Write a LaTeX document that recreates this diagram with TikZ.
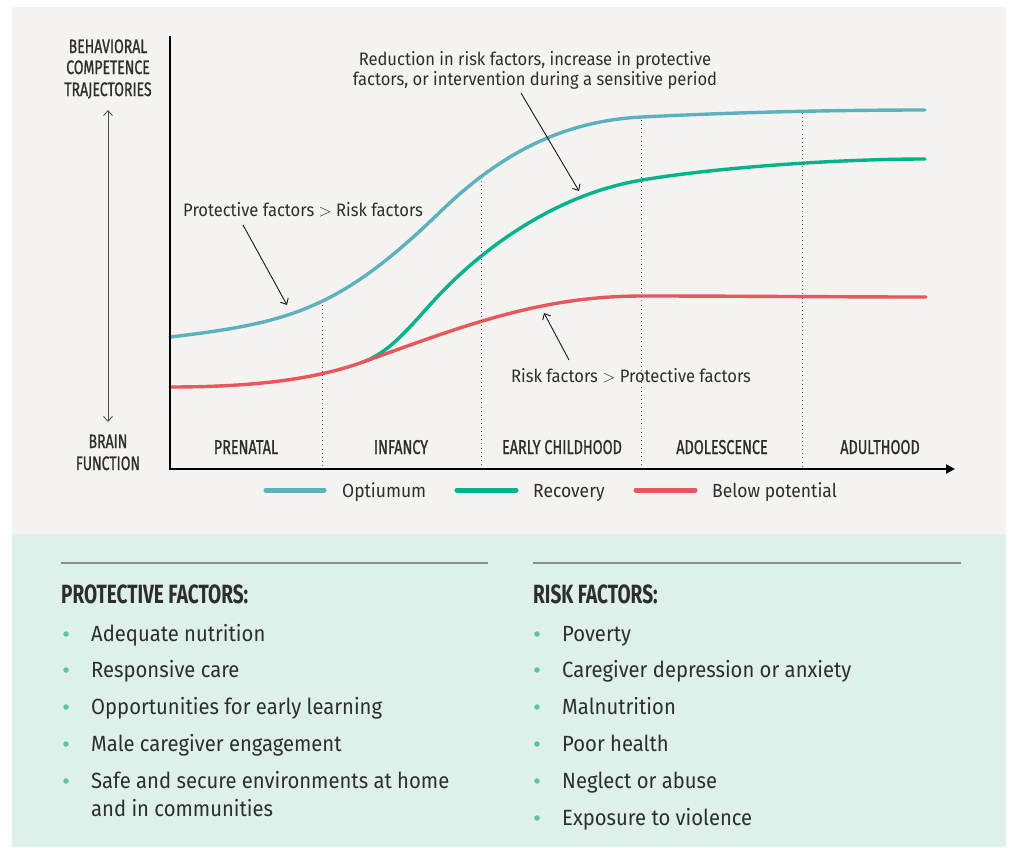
\documentclass[tikz,border=0pt]{standalone}
\usepackage{fontspec}
\setmainfont{Fira Sans}[FakeStretch=0.92]
\newfontfamily\cond{Fira Sans}[FakeStretch=0.72]
\newfontfamily\condm{Fira Sans}[FakeStretch=0.72, FakeBold=0.9]
\usetikzlibrary{arrows.meta}
\definecolor{bggray}{HTML}{F4F3F0}
\definecolor{bggreen}{HTML}{DDF1EA}
\definecolor{optblue}{HTML}{5BB2BE}
\definecolor{recgreen}{HTML}{00B38B}
\definecolor{belred}{HTML}{E9565E}
\definecolor{txt}{HTML}{2E2E2E}
\definecolor{bul}{HTML}{5CC49F}
\definecolor{rulegray}{HTML}{8E8E8E}
\tikzset{
  lbl/.style={inner sep=0pt, text=txt, font=\condm\fontsize{20}{22}\selectfont, anchor=base},
  axlbl/.style={inner sep=0pt, text=txt, font=\condm\fontsize{19.5}{22}\selectfont, anchor=base},
  note/.style={inner sep=0pt, text=txt, font=\fontsize{18}{20}\selectfont},
  legtxt/.style={inner sep=0pt, text=txt, font=\fontsize{19}{22}\selectfont, anchor=base west},
  head/.style={inner sep=0pt, text=txt, font=\cond\bfseries\fontsize{26.4}{28}\selectfont, anchor=base west},
  item/.style={inner sep=0pt, text=txt, font=\fontsize{22}{28}\selectfont, anchor=base west},
  curve/.style={line width=3.4pt, line cap=round},
  legline/.style={line width=5pt, line cap=round},
  dotline/.style={draw=black!65, line width=0.9pt, dash pattern=on 0.9pt off 3.2pt},
  pointer/.style={draw=black!90, line width=0.9pt, -{Straight Barb[length=5pt,width=9pt]}},
  bulletdot/.style={circle, fill=bul, inner sep=0pt, minimum size=5.5pt},
}
\begin{document}
\begin{tikzpicture}[x=1pt,y=-1pt]
\useasboundingbox (0,0) rectangle (1010,847);
\fill[white] (0,0) rectangle (1010,847);
\fill[bggray] (12,7) rectangle (1006,534);
\fill[bggreen] (12,534) rectangle (1006,847);

% y axis label
\node[axlbl] (yl1) at (108,53) {BEHAVIORAL};
\node[axlbl] (yl2) at (108,74) {COMPETENCE};
\node[axlbl] (yl3) at (108,96) {TRAJECTORIES};
\node[axlbl] (yl4) at (108,448) {BRAIN};
\node[axlbl] (yl5) at (108,470) {FUNCTION};
\coordinate (ytop) at (108,110);
\coordinate (ybot) at (108,422);
\draw[draw=black!70, line width=0.9pt, {Straight Barb[length=5pt,width=9pt]}-{Straight Barb[length=5pt,width=9pt]}] (ytop) -- (ybot);

% curves
\draw[curve, optblue] (170,337) .. controls (290,323) and (340,309) .. (440,212)
  .. controls (500,154) and (562,121) .. (642,117)
  .. controls (720,113) and (820,110) .. (925,110);
\draw[curve, recgreen] (363,362) .. controls (393,351.2) and (415,320) .. (440,294)
  .. controls (480,252) and (552,195) .. (642,180)
  .. controls (720,167) and (840,159) .. (925,159);
\draw[curve, belred] (170,387) .. controls (250,387) and (313,380) .. (363,362)
  .. controls (463,326) and (540,296) .. (642,296)
  .. controls (740,296) and (840,297) .. (926,297);

% dotted dividers
\draw[dotline] (322,305) -- (322,467);
\draw[dotline] (481,181) -- (481,467);
\draw[dotline] (641,120) -- (641,467);
\draw[dotline] (802,113) -- (802,467);

% axes
\draw[black, line width=2.4pt] (170,36) -- (170,469);
\draw[black, line width=2.6pt, -{Triangle[length=9pt,width=9pt]}] (169,469) -- (955,469);

% period labels
\node[lbl] (p1) at (246,454) {PRENATAL};
\node[lbl] (p2) at (401,454) {INFANCY};
\node[lbl] (p3) at (562,454) {EARLY CHILDHOOD};
\node[lbl] (p4) at (722,454) {ADOLESCENCE};
\node[lbl] (p5) at (880,454) {ADULTHOOD};

% annotations
\node[note, anchor=base west] (n1) at (183,216) {Protective factors $>$ Risk factors};
\coordinate (n1s) at (243,225);
\coordinate (n1e) at (287,305);
\draw[pointer] (n1s) -- (n1e);

\node[note, anchor=base] (n2a) at (535,65) {Reduction in risk factors, increase in protective};
\node[note, anchor=base] (n2b) at (535,85) {factors, or intervention during a sensitive period};
\coordinate (n2s) at (521,93);
\coordinate (n2e) at (579,191);
\draw[pointer] (n2s) -- (n2e);

\node[note, anchor=base west] (n3) at (511,382) {Risk factors $>$ Protective factors};
\coordinate (n3s) at (569,360);
\coordinate (n3e) at (544,313);
\draw[pointer] (n3s) -- (n3e);

% legend
\coordinate (l1a) at (266,490); \coordinate (l1b) at (324,490);
\coordinate (l2a) at (457,490); \coordinate (l2b) at (516,490);
\coordinate (l3a) at (636,490); \coordinate (l3b) at (695,490);
\draw[legline, optblue] (l1a) -- (l1b);
\draw[legline, recgreen] (l2a) -- (l2b);
\draw[legline, belred] (l3a) -- (l3b);
\node[legtxt] (lt1) at (342,497) {Optiumum};
\node[legtxt] (lt2) at (533,497) {Recovery};
\node[legtxt] (lt3) at (712,497) {Below potential};

% bottom panel
\draw[rulegray, line width=1.3pt] (61,563) -- (488,563);
\draw[rulegray, line width=1.3pt] (533,563) -- (961,563);
\node[head] (h1) at (61,603) {PROTECTIVE FACTORS:};
\node[head] (h2) at (533,603) {RISK FACTORS:};

\node[item] (a1) at (91,641) {Adequate nutrition};
\node[item] (a2) at (91,677) {Responsive care};
\node[item] (a3) at (91,714) {Opportunities for early learning};
\node[item] (a4) at (91,751) {Male caregiver engagement};
\node[item] (a5) at (91,788) {Safe and secure environments at home};
\node[item] (a6) at (91,816) {and in communities};
\foreach \yy/\nm in {634/ba1,670/ba2,707/ba3,744/ba4,781/ba5}{
  \node[bulletdot] (\nm) at (66,\yy) {};
}

\node[item] (b1) at (562,641) {Poverty};
\node[item] (b2) at (562,677) {Caregiver depression or anxiety};
\node[item] (b3) at (562,714) {Malnutrition};
\node[item] (b4) at (562,751) {Poor health};
\node[item] (b5) at (562,788) {Neglect or abuse};
\node[item] (b6) at (562,825) {Exposure to violence};
\foreach \yy/\nm in {634/bb1,670/bb2,707/bb3,744/bb4,781/bb5,818/bb6}{
  \node[bulletdot] (\nm) at (537,\yy) {};
}
\end{tikzpicture}
\end{document}
